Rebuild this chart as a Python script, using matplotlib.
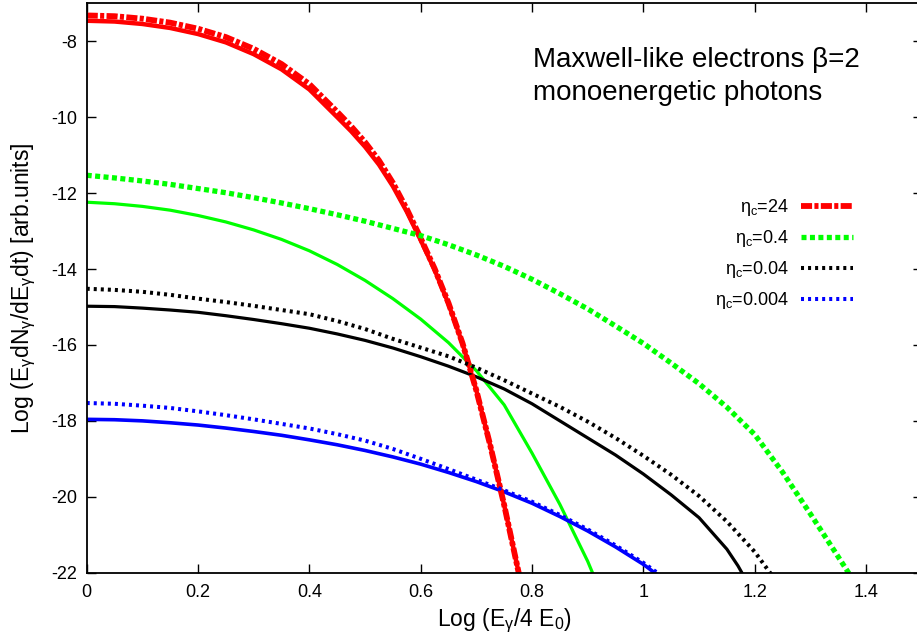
import numpy as np
import matplotlib
matplotlib.use('Agg')
import matplotlib.pyplot as plt

plt.rcParams['font.family'] = ['Liberation Sans', 'DejaVu Sans']
plt.rcParams['mathtext.fontset'] = 'custom'
plt.rcParams['mathtext.rm'] = 'Liberation Sans'
plt.rcParams['mathtext.it'] = 'Liberation Sans:italic'
plt.rcParams['axes.unicode_minus'] = False

## values, x = Log(E_gamma/4E0), y = Log(E dN/dE dt)
# eta_c = 24 (red)
x_24 = [0.0, 0.05, 0.10, 0.15, 0.20, 0.25, 0.30, 0.35, 0.40, 0.45, 0.475, 0.50, 0.525, 0.55, 0.575,
        0.60, 0.625, 0.65, 0.675, 0.70, 0.725, 0.75, 0.775, 0.785]
y_24_dash = [-7.32, -7.34, -7.405, -7.51, -7.67, -7.89, -8.20, -8.60, -9.13, -9.86, -10.24, -10.66, -11.14,
             -11.73, -12.42, -13.19, -13.99, -14.90, -15.95, -17.20, -18.65, -20.22, -21.93, -22.62]
y_24_solid = [-7.46, -7.48, -7.545, -7.65, -7.81, -8.03, -8.34, -8.74, -9.27, -10.0, -10.37, -10.78, -11.25,
              -11.82, -12.49, -13.24, -14.02, -14.92, -15.96, -17.2, -18.65, -20.22, -21.93, -22.62]

# eta_c = 0.4 (green)
x_04_dash = [0.0, 0.05, 0.1, 0.15, 0.2, 0.25, 0.3, 0.35, 0.4, 0.45, 0.5, 0.55, 0.6, 0.65, 0.7, 0.75,
             0.8, 0.85, 0.9, 0.95, 1.0, 1.05, 1.1, 1.15, 1.2, 1.25, 1.3, 1.35, 1.375]
y_04_dash = [-11.53, -11.60, -11.68, -11.77, -11.88, -11.99, -12.12, -12.26, -12.41, -12.57, -12.74, -12.93,
             -13.12, -13.36, -13.63, -13.93, -14.27, -14.65, -15.05, -15.50, -15.96, -16.48, -17.02, -17.64,
             -18.36, -19.35, -20.45, -21.58, -22.15]
x_04_solid = [0.0, 0.05, 0.1, 0.15, 0.2, 0.25, 0.3, 0.35, 0.4, 0.45, 0.5, 0.55, 0.6, 0.65, 0.7, 0.75,
              0.8, 0.85, 0.9, 0.91]
y_04_solid = [-12.24, -12.28, -12.35, -12.45, -12.59, -12.76, -12.97, -13.22, -13.52, -13.88, -14.30, -14.78,
              -15.32, -15.94, -16.68, -17.58, -18.85, -20.2, -21.7, -22.05]

# eta_c = 0.04 (black)
x_004_dash = [0.0, 0.05, 0.1, 0.15, 0.2, 0.25, 0.3, 0.35, 0.4, 0.45, 0.5, 0.55, 0.6, 0.65, 0.7, 0.75,
              0.8, 0.85, 0.9, 0.95, 1.0, 1.05, 1.1, 1.15, 1.2, 1.225, 1.23]
y_004_dash = [-14.52, -14.55, -14.60, -14.68, -14.78, -14.87, -14.97, -15.08, -15.19, -15.37, -15.58, -15.84,
              -16.07, -16.3, -16.6, -16.93, -17.28, -17.63, -18.02, -18.45, -18.92, -19.42, -19.98, -20.65,
              -21.45, -21.95, -22.05]
x_004_solid = [0.0, 0.05, 0.1, 0.15, 0.2, 0.25, 0.3, 0.35, 0.4, 0.45, 0.5, 0.55, 0.6, 0.65, 0.7, 0.75,
               0.8, 0.85, 0.9, 0.95, 1.0, 1.05, 1.1, 1.15, 1.17, 1.18]
y_004_solid = [-14.98, -14.99, -15.03, -15.08, -15.14, -15.23, -15.33, -15.44, -15.56, -15.71, -15.88, -16.08,
               -16.31, -16.56, -16.84, -17.16, -17.55, -18.0, -18.45, -18.9, -19.4, -19.95, -20.55, -21.38,
               -21.82, -22.08]

# eta_c = 0.004 (blue)
x_0004 = [0.0, 0.05, 0.1, 0.15, 0.2, 0.25, 0.3, 0.35, 0.4, 0.45, 0.5, 0.55, 0.6, 0.65, 0.7, 0.75,
          0.8, 0.85, 0.9, 0.95, 1.0, 1.02, 1.025]
y_0004_dash = [-17.53, -17.55, -17.60, -17.66, -17.75, -17.85, -17.96, -18.08, -18.20, -18.35, -18.52, -18.74,
               -19.0, -19.27, -19.55, -19.83, -20.13, -20.48, -20.86, -21.28, -21.74, -21.95, -22.0]
y_0004_solid = [-17.96, -17.97, -18.0, -18.05, -18.11, -18.19, -18.28, -18.38, -18.5, -18.63, -18.78, -18.95,
                -19.14, -19.36, -19.6, -19.87, -20.17, -20.52, -20.9, -21.32, -21.78, -22.0, -22.05]

labels = ['η$_{\\mathrm{c}}$=24', 'η$_{\\mathrm{c}}$=0.4', 'η$_{\\mathrm{c}}$=0.04', 'η$_{\\mathrm{c}}$=0.004']
x_ticks = [0, 0.2, 0.4, 0.6, 0.8, 1, 1.2, 1.4]
y_ticks = [-22, -20, -18, -16, -14, -12, -10, -8]

fig = plt.figure(figsize=(9.17, 6.37), dpi=100)
ax = fig.add_axes([86.7/917, (637-572.7)/637, 835/917, 569.4/637])

# solid lines first, dashed on top
ax.plot(x_24, y_24_solid, color='#ff0000', lw=3.2)
ax.plot(x_04_solid, y_04_solid, color='#00ff00', lw=2.3)
ax.plot(x_004_solid, y_004_solid, color='black', lw=2.3)
ax.plot(x_0004, y_0004_solid, color='#0000ff', lw=2.6)

ax.plot(x_24, y_24_dash, color='#ff0000', lw=4.2, dashes=(1.9, 0.4, 0.7, 0.4), label=labels[0])
ax.plot(x_04_dash, y_04_dash, color='#00ff00', lw=3.8, dashes=(0.95, 0.65), label=labels[1])
ax.plot(x_004_dash, y_004_dash, color='black', lw=2.9, dashes=(0.75, 1.0), label=labels[2])
ax.plot(x_0004, y_0004_dash, color='#0000ff', lw=2.9, dashes=(0.75, 1.0), label=labels[3])

ax.set_xlim(0, 1.5)
ax.set_ylim(-22, -7)
ax.set_xticks(x_ticks)
ax.set_xticklabels(['%g' % t for t in x_ticks])
ax.set_yticks(y_ticks)
ax.set_yticklabels(['%g' % t for t in y_ticks])
ax.tick_params(direction='in', top=True, right=True, length=6.5, width=1.0, labelsize=13)
ax.tick_params(axis='x', pad=8)
ax.tick_params(axis='y', pad=7)
for s in ax.spines.values():
    s.set_linewidth(1.3)

ax.set_xlabel('Log (E$_{\\mathrm{γ}}$/4 E$_{\\mathrm{0}}$)', fontsize=16.5, labelpad=4)
ax.set_ylabel('Log (E$_{\\mathrm{γ}}$dN$_{\\mathrm{γ}}$/dE$_{\\mathrm{γ}}$dt) [arb.units]', fontsize=16.5, labelpad=9)

ax.text(0.5345, 0.8887, 'Maxwell-like electrons β=2', transform=ax.transAxes,
        fontsize=20, va='baseline', ha='left')
ax.text(0.5345, 0.8302, 'monoenergetic photons', transform=ax.transAxes,
        fontsize=20, va='baseline', ha='left')

ax.legend(loc='upper right', bbox_to_anchor=(0.918, 0.66), frameon=False, markerfirst=False,
          fontsize=13, handlelength=2.88, handletextpad=0.65, labelspacing=0.56,
          borderpad=0, borderaxespad=0)

fig.savefig('out.png', dpi=100)
